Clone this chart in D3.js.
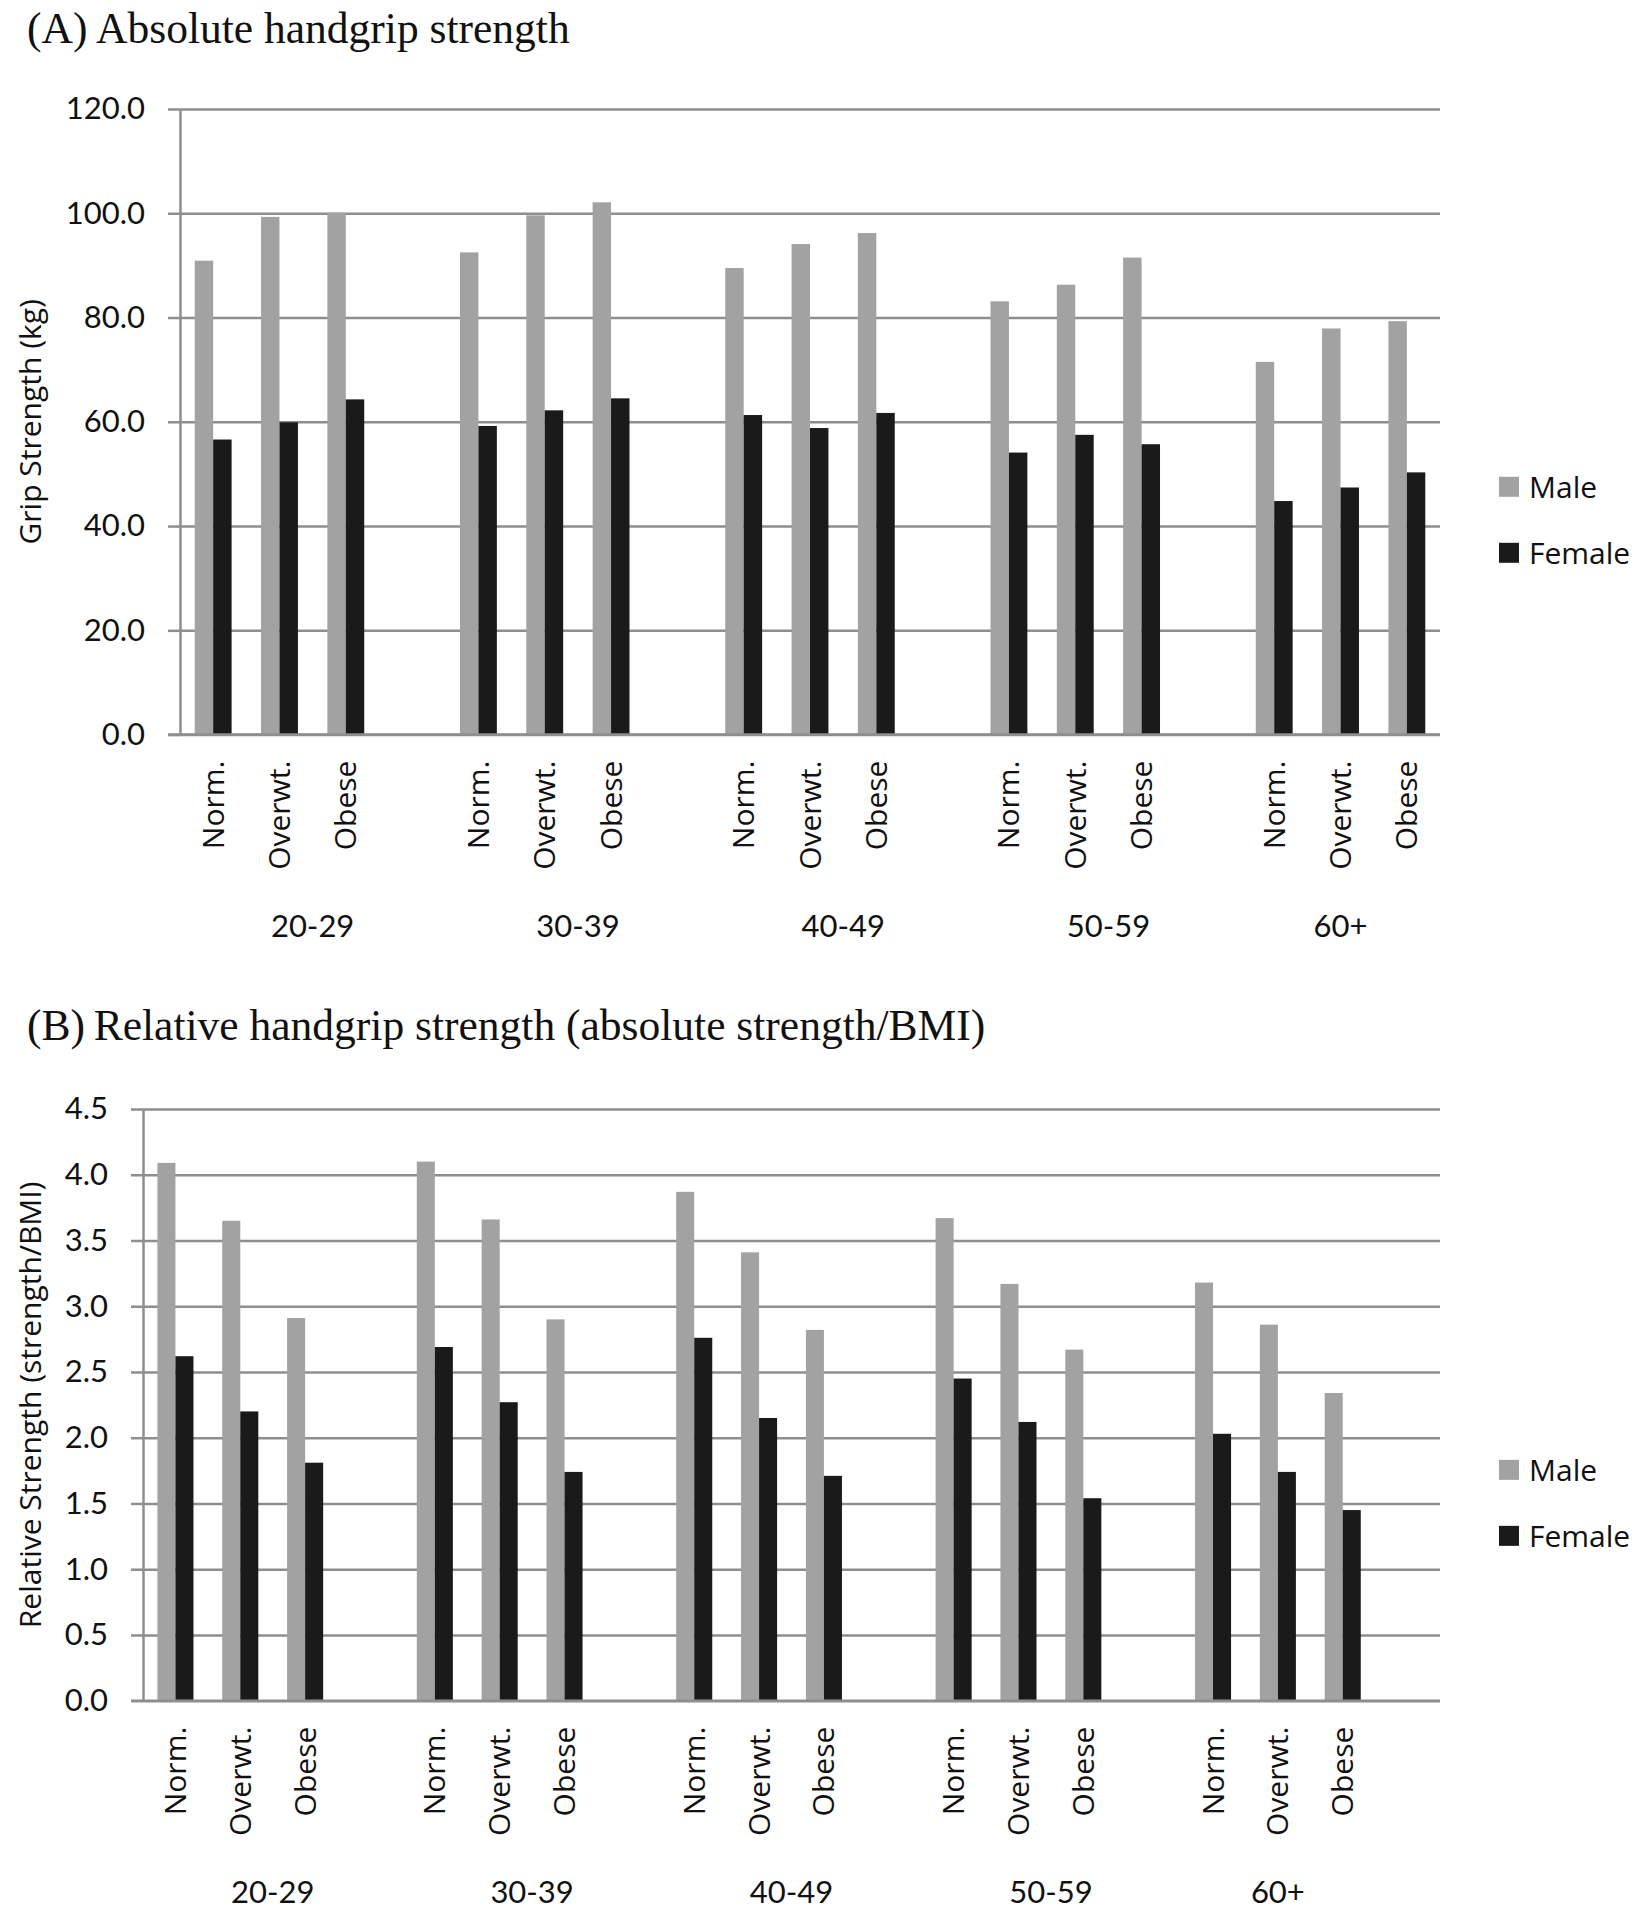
<!DOCTYPE html>
<html>
<head>
<meta charset="utf-8">
<script src="https://cdn.jsdelivr.net/npm/d3@7"></script>
<style>
  body { margin: 0; background: #fff; }
  svg { display: block; }
</style>
</head>
<body>
<div id="chart"></div>
<script>
// categories
const ageGroups = ['20-29', '30-39', '40-49', '50-59', '60+'];
const bmiClasses = ['Norm.', 'Overwt.', 'Obese'];
const seriesNames = ['Male', 'Female'];

// (A) absolute grip strength, kg (age group x BMI class order)
const absMale = [90.9, 99.3, 100.1, 92.5, 99.6, 102.1, 89.5, 94.1, 96.2, 83.1, 86.3, 91.5, 71.5, 77.9, 79.3];
const absFemale = [56.6, 59.9, 64.3, 59.2, 62.2, 64.5, 61.3, 58.8, 61.7, 54.1, 57.5, 55.7, 44.8, 47.4, 50.3];

// (B) relative grip strength, strength/BMI
const relMale = [4.09, 3.65, 2.91, 4.10, 3.66, 2.90, 3.87, 3.41, 2.82, 3.67, 3.17, 2.67, 3.18, 2.86, 2.34];
const relFemale = [2.62, 2.20, 1.81, 2.69, 2.27, 1.74, 2.76, 2.15, 1.71, 2.45, 2.12, 1.54, 2.03, 1.74, 1.45];

// tick values
const absTicks = [0, 20, 40, 60, 80, 100, 120];
const relTicks = [0, 0.5, 1.0, 1.5, 2.0, 2.5, 3.0, 3.5, 4.0, 4.5];

const width = 1648;
const height = 1920;
const maleColor = '#a2a2a2';
const femaleColor = '#1a1a1a';
const gridColor = '#8e8e8e';
const sansFont = '"Open Sans", "Noto Sans", sans-serif';
const numFont = 'Lato, "Open Sans", sans-serif';
const serifFont = '"Liberation Serif", "DejaVu Serif", serif';

const svg = d3.select('#chart')
  .append('svg')
  .attr('width', width)
  .attr('height', height);

svg.append('rect').attr('width', width).attr('height', height).attr('fill', '#fff');

// slot keys: 3 BMI classes per age group, a blank spacer between groups
// (and optionally one blank slot after the last group)
function buildSlots(trailingSpacer) {
  const slots = [];
  const groupSlots = {};
  ageGroups.forEach((g, gi) => {
    groupSlots[g] = [];
    bmiClasses.forEach((b) => {
      slots.push(g + '|' + b);
      groupSlots[g].push(g + '|' + b);
    });
    if (gi < ageGroups.length - 1) {
      slots.push(g + '|');
      groupSlots[g].push(g + '|');
    } else if (trailingSpacer) {
      slots.push(g + '|');
    }
  });
  return { slots, groupSlots };
}

function rows(male, female) {
  const out = [];
  ageGroups.forEach((g, gi) => {
    bmiClasses.forEach((b, bi) => {
      const i = gi * bmiClasses.length + bi;
      out.push({ key: g + '|' + b, group: g, bmi: b, Male: male[i], Female: female[i] });
    });
  });
  return out;
}

function drawPanel(cfg) {
  const { left, right, top, bottom } = cfg;
  const data = rows(cfg.male, cfg.female);
  const { slots, groupSlots } = buildSlots(cfg.trailingSpacer);

  const x = d3.scaleBand()
    .domain(slots)
    .range([left, right])
    .paddingInner(0.444)
    .paddingOuter(0.222);

  const xSeries = d3.scaleBand()
    .domain(seriesNames)
    .range([0, x.bandwidth()]);

  const y = d3.scaleLinear()
    .domain([0, d3.max(cfg.ticks)])
    .range([bottom, top]);

  // title
  svg.append('text')
    .attr('x', 27)
    .attr('y', cfg.titleY)
    .attr('font-family', serifFont)
    .attr('font-size', 43.5)
    .attr('fill', '#111')
    .text(cfg.title);

  // gridlines
  const grid = svg.append('g')
    .attr('transform', `translate(${left},0)`)
    .call(d3.axisRight(y).tickValues(cfg.ticks).tickSize(right - left).tickFormat(''));
  grid.select('.domain').remove();
  grid.selectAll('line').attr('stroke', gridColor).attr('stroke-width', 2.5);

  // y axis
  const yAxis = svg.append('g')
    .attr('transform', `translate(${left},0)`)
    .call(d3.axisLeft(y)
      .tickValues(cfg.ticks)
      .tickSize(12)
      .tickSizeOuter(0)
      .tickPadding(23)
      .tickFormat(d3.format('.1f')));
  yAxis.select('.domain').attr('stroke', gridColor).attr('stroke-width', 2.5);
  yAxis.selectAll('line').attr('stroke', gridColor).attr('stroke-width', 2.5);
  yAxis.selectAll('text')
    .attr('font-family', numFont)
    .attr('font-size', 31)
    .attr('fill', '#111');

  // y axis title
  svg.append('text')
    .attr('transform', `translate(30,${(top + bottom) / 2}) rotate(-90)`)
    .attr('text-anchor', 'middle')
    .attr('dy', '0.35em')
    .attr('font-family', sansFont)
    .attr('font-size', 30)
    .attr('fill', '#111')
    .text(cfg.yTitle);

  // bars
  const barGroups = svg.selectAll(null)
    .data(data)
    .join('g')
    .attr('transform', (d) => `translate(${x(d.key)},0)`);

  barGroups.selectAll('rect')
    .data((d) => seriesNames.map((s) => ({ series: s, value: d[s] })))
    .join('rect')
    .attr('x', (d) => xSeries(d.series))
    .attr('y', (d) => y(d.value))
    .attr('width', xSeries.bandwidth())
    .attr('height', (d) => y(0) - y(d.value))
    .attr('fill', (d) => (d.series === 'Male' ? maleColor : femaleColor));

  // redraw baseline over bars
  svg.append('line')
    .attr('x1', left - 12)
    .attr('x2', right)
    .attr('y1', y(0))
    .attr('y2', y(0))
    .attr('stroke', gridColor)
    .attr('stroke-width', 2.5);

  // BMI class labels (rotated)
  svg.selectAll(null)
    .data(data)
    .join('text')
    .attr('transform', (d) => `translate(${x(d.key) + x.bandwidth() / 2},${bottom + 26}) rotate(-90)`)
    .attr('text-anchor', 'end')
    .attr('dy', '0.35em')
    .attr('font-family', sansFont)
    .attr('font-size', 30)
    .attr('fill', '#111')
    .text((d) => d.bmi);

  // age group labels, centred over the group's slots
  svg.selectAll(null)
    .data(ageGroups)
    .join('text')
    .attr('x', (g) => {
      const ks = groupSlots[g];
      const x0 = x(ks[0]) - x.step() * x.paddingInner() / 2;
      const x1 = x(ks[ks.length - 1]) + x.bandwidth() + x.step() * x.paddingInner() / 2;
      return (x0 + x1) / 2;
    })
    .attr('y', bottom + 202)
    .attr('text-anchor', 'middle')
    .attr('font-family', numFont)
    .attr('font-size', 31)
    .attr('fill', '#111')
    .text((g) => g);

  // legend
  const legendTop = (top + bottom) / 2 + 55;
  const legend = svg.selectAll(null)
    .data(seriesNames)
    .join('g')
    .attr('transform', (d, i) => `translate(1499,${legendTop + i * 66})`);
  legend.append('rect')
    .attr('width', 20)
    .attr('height', 20)
    .attr('fill', (d) => (d === 'Male' ? maleColor : femaleColor));
  legend.append('text')
    .attr('x', 30)
    .attr('y', 21)
    .attr('font-family', sansFont)
    .attr('font-size', 30)
    .attr('fill', '#111')
    .text((d) => d);
}

drawPanel({
  title: '(A)\u2009Absolute handgrip strength',
  titleY: 43,
  yTitle: 'Grip Strength (kg)',
  male: absMale,
  female: absFemale,
  ticks: absTicks,
  trailingSpacer: false,
  left: 180,
  right: 1440,
  top: 109,
  bottom: 734.6,
});

drawPanel({
  title: '(B)\u2009Relative handgrip strength (absolute strength/BMI)',
  titleY: 1040,
  yTitle: 'Relative Strength (strength/BMI)',
  male: relMale,
  female: relFemale,
  ticks: relTicks,
  trailingSpacer: true,
  left: 143,
  right: 1440,
  top: 1109,
  bottom: 1700.7,
});
</script>
</body>
</html>
